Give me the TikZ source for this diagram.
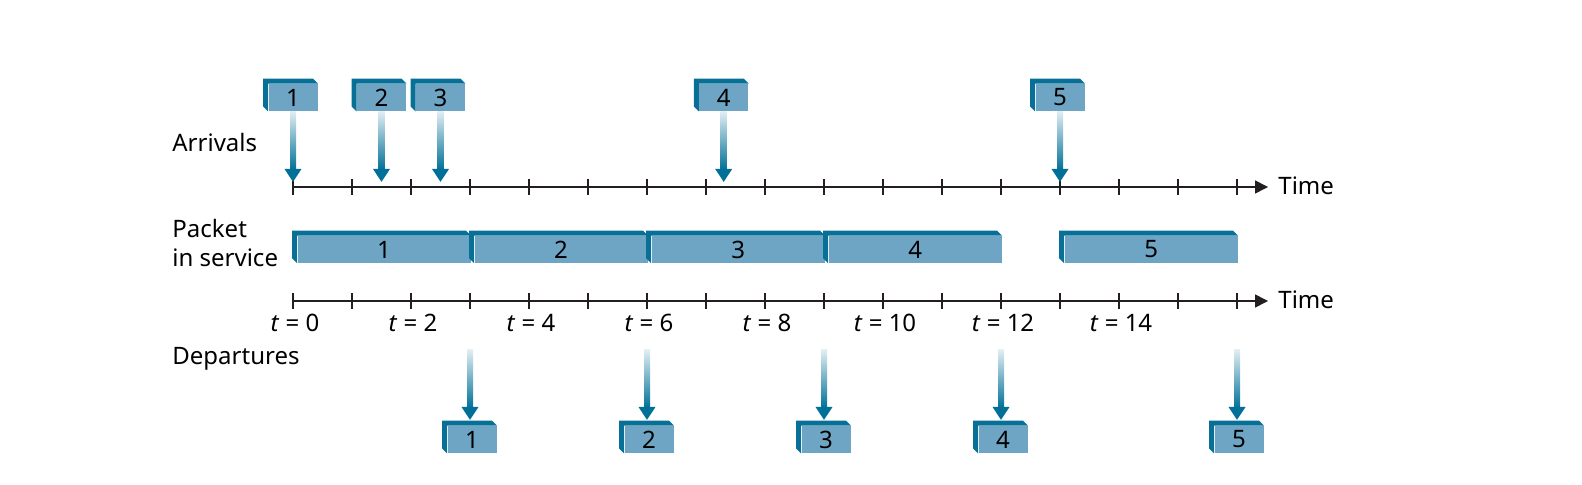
\documentclass[tikz,border=0pt]{standalone}
\usepackage{fontspec}
\setmainfont{Noto Sans}
\usetikzlibrary{arrows.meta}

\definecolor{pktfront}{RGB}{110,165,196}
\definecolor{pktside}{RGB}{8,112,150}
\definecolor{pktarrow}{RGB}{0,112,152}
\definecolor{axisgray}{RGB}{35,31,32}

\tikzset{
  pkt/.style={fill=pktfront, inner sep=0pt, minimum width=24.5pt, minimum height=13.5pt,
    font=\fontsize{12}{14}\selectfont, text=black},
  shaft/.style={top color=pktarrow!12, middle color=pktarrow!70, bottom color=pktarrow},
  flowhead/.style={draw=pktarrow, line width=3pt, -{Triangle[width=8pt,length=6.5pt]}},
  axis/.style={draw=axisgray, line width=0.75pt, -{Triangle[width=6.5pt,length=6.5pt]}},
  lbl/.style={font=\fontsize{12}{14.5}\selectfont, anchor=base west, align=left, inner sep=0pt},
  tlbl/.style={font=\fontsize{12}{14}\selectfont, anchor=base, inner sep=0pt},
}

% dark top and left faces of a packet
\newcommand{\pktdepth}[1]{%
  \fill[pktside] (#1.south west) -- ++(-2.5pt,2.5pt) |- ([shift={(-2.5pt,2.5pt)}]#1.north east)
    -- (#1.north east) -- (#1.north west) -- cycle;}

\begin{document}
\begin{tikzpicture}[x=0.5pt,y=-0.5pt]
  \useasboundingbox (0,0) rectangle (1582,485);

  % row labels
  \node[lbl] (arrivals) at (172,152) {Arrivals};
  \node[lbl] (service) at (172,267) {Packet\\in service};
  \node[lbl] (departures) at (172,365) {Departures};

  % time axes
  \coordinate (arrstart) at (293,187);
  \coordinate (srvstart) at (293,301);
  \node[lbl] (time1) at (1278,195) {Time};
  \node[lbl] (time2) at (1278,309) {Time};
  \draw[axis, shorten >=5pt] (arrstart) -- (arrstart -| time1.west);
  \draw[axis, shorten >=5pt] (srvstart) -- (srvstart -| time2.west);
  \foreach \k in {0,...,16}{
    \draw[axisgray, line width=0.75pt] ({293+59*\k},179) -- ({293+59*\k},195);
    \draw[axisgray, line width=0.75pt] ({293+59*\k},293) -- ({293+59*\k},309);
  }
  \foreach \k in {0,2,...,14}
    \node[tlbl] (tl\k) at ({295+59*\k},332) {\textit{t} = \k};

  % arrivals
  \foreach \n/\t in {1/0,2/1.5,3/2.5,4/7.3,5/13}{
    \node[pkt] (arr\n) at ({293+59*\t},97.5) {\n};
    \pktdepth{arr\n}
    \coordinate (arrtip\n) at ({293+59*\t},182);
    \shade[shaft] ([xshift=-1.5pt]arr\n.south) rectangle ([xshift=1.5pt,yshift=6pt]arrtip\n);
    \draw[flowhead] ([yshift=6.5pt]arrtip\n) -- (arrtip\n);
  }

  % packets in service
  \foreach \n/\a/\b in {1/0/3,2/3/6,3/6/9,4/9/12,5/13/16}{
    \node[pkt, anchor=east, minimum width={29.5pt*(\b-\a)-2pt}] (srv\n) at ({294+59*\b},249.5) {\n};
    \pktdepth{srv\n}
  }

  % departures
  \foreach \n/\t in {1/3,2/6,3/9,4/12,5/16}{
    \node[pkt] (dep\n) at ({295+59*\t},439.5) {\n};
    \pktdepth{dep\n}
    \coordinate (deptop\n) at ({293+59*\t},350);
    \coordinate (deptip\n) at ({293+59*\t},420);
    \shade[shaft] ([xshift=-1.5pt]deptop\n) rectangle ([xshift=1.5pt,yshift=6pt]deptip\n);
    \draw[flowhead] ([yshift=6.5pt]deptip\n) -- (deptip\n);
  }
\end{tikzpicture}
\end{document}
